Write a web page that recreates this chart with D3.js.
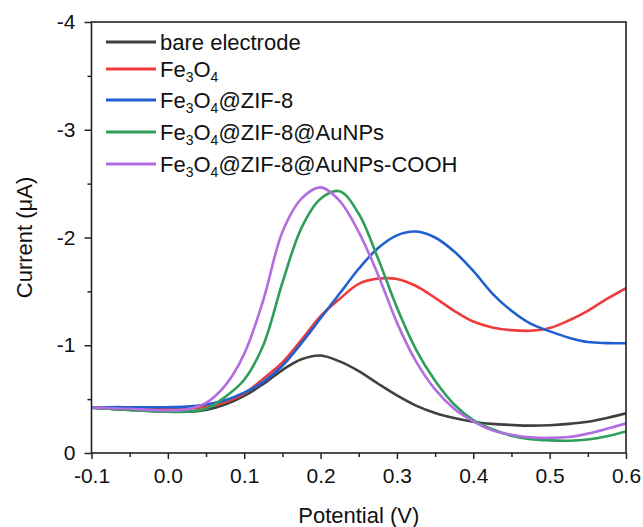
<!DOCTYPE html>
<html><head><meta charset="utf-8">
<script src="https://cdn.jsdelivr.net/npm/d3@7"></script>
<style>body{margin:0;background:#fff}svg{display:block;font-family:"Liberation Sans",Arial,sans-serif}</style>
</head><body><svg id="c" width="643" height="527"></svg>
<script>
const potential = [-0.1,-0.075,-0.05,-0.025,0,0.025,0.05,0.075,0.1,0.125,0.15,0.175,0.2,0.225,0.25,0.275,0.3,0.325,0.35,0.375,0.4,0.425,0.45,0.475,0.5,0.525,0.55,0.575,0.6];
const bare = [-0.42,-0.41,-0.40,-0.39,-0.385,-0.383,-0.40,-0.45,-0.53,-0.64,-0.77,-0.87,-0.905,-0.85,-0.76,-0.645,-0.535,-0.44,-0.372,-0.325,-0.29,-0.27,-0.26,-0.254,-0.258,-0.27,-0.29,-0.325,-0.368];
const fe3o4 = [-0.42,-0.42,-0.415,-0.41,-0.405,-0.41,-0.43,-0.47,-0.55,-0.69,-0.84,-1.05,-1.27,-1.43,-1.57,-1.618,-1.615,-1.55,-1.44,-1.32,-1.22,-1.165,-1.14,-1.135,-1.16,-1.23,-1.32,-1.43,-1.53];
const zif8 = [-0.42,-0.425,-0.425,-0.425,-0.425,-0.43,-0.45,-0.49,-0.56,-0.66,-0.81,-1.02,-1.25,-1.48,-1.71,-1.90,-2.02,-2.055,-2.00,-1.87,-1.69,-1.48,-1.32,-1.20,-1.13,-1.07,-1.03,-1.02,-1.018];
const aunps = [-0.42,-0.41,-0.40,-0.39,-0.383,-0.383,-0.41,-0.52,-0.68,-1.00,-1.58,-2.09,-2.36,-2.43,-2.22,-1.81,-1.35,-0.96,-0.67,-0.45,-0.305,-0.22,-0.16,-0.128,-0.117,-0.114,-0.125,-0.155,-0.20];
const cooh = [-0.42,-0.415,-0.41,-0.40,-0.395,-0.405,-0.465,-0.625,-0.92,-1.42,-2.05,-2.36,-2.465,-2.34,-2.05,-1.66,-1.21,-0.85,-0.59,-0.41,-0.293,-0.21,-0.17,-0.145,-0.14,-0.148,-0.18,-0.225,-0.275];
const seriesNames = ["bare electrode","Fe3O4","Fe3O4@ZIF-8","Fe3O4@ZIF-8@AuNPs","Fe3O4@ZIF-8@AuNPs-COOH"];
const seriesColors = ["#404040","#ee3b3b","#1f5fd1","#2e9e5b","#b06ee0"];
const xTicks = [-0.1,0,0.1,0.2,0.3,0.4,0.5,0.6];
const yTicks = [0,-1,-2,-3,-4];

const svg = d3.select("#c");
const L=91.5, R=626, T=22, B=453;
const x = d3.scaleLinear().domain([-0.1,0.6]).range([L,R]);
const y = d3.scaleLinear().domain([0,-4]).range([B,T]);
const allSeries = [bare,fe3o4,zif8,aunps,cooh];
const fmtX = d => d.toFixed(1);

svg.append("g").attr("transform",`translate(0,${B})`)
  .call(d3.axisBottom(x).tickValues(d3.range(-0.05,0.6,0.1)).tickSize(4).tickFormat(""));
svg.append("g").attr("transform",`translate(0,${B})`)
  .call(d3.axisBottom(x).tickValues(xTicks).tickSize(6).tickPadding(9).tickFormat(fmtX));
svg.append("g").attr("transform",`translate(${L},0)`)
  .call(d3.axisLeft(y).tickValues([-0.5,-1.5,-2.5,-3.5]).tickSize(4).tickFormat(""));
svg.append("g").attr("transform",`translate(${L},0)`)
  .call(d3.axisLeft(y).tickValues(yTicks).tickSize(7).tickPadding(9).tickFormat(d=>d===0?"0":String(d)));
svg.selectAll(".domain").remove();
svg.selectAll(".tick line").attr("stroke","#222").attr("stroke-width",1.5);
svg.selectAll(".tick text").attr("font-size",21).attr("fill","#111").attr("font-family","Liberation Sans, Arial, sans-serif");

const line = d3.line().x((d,i)=>x(potential[i])).y(d=>y(d)).curve(d3.curveCatmullRom.alpha(0.5));
svg.append("clipPath").attr("id","clp").append("rect").attr("x",L).attr("y",T).attr("width",R-L).attr("height",B-T);
svg.append("g").attr("clip-path","url(#clp)").selectAll("path").data(allSeries).join("path")
  .attr("d",line).attr("fill","none").attr("stroke",(d,i)=>seriesColors[i]).attr("stroke-width",2.6);

svg.append("rect").attr("x",L).attr("y",T).attr("width",R-L).attr("height",B-T)
  .attr("fill","none").attr("stroke","#222").attr("stroke-width",1.6);

const legY = [42,69,100,132,164];
const leg = svg.append("g");
seriesNames.forEach((n,i)=>{
  leg.append("line").attr("x1",106).attr("x2",156).attr("y1",legY[i]).attr("y2",legY[i])
    .attr("stroke",seriesColors[i]).attr("stroke-width",3);
  const t = leg.append("text").attr("x",160).attr("y",legY[i]+7.5).attr("font-size",22).attr("fill","#111");
  const parts = n.split(/(?<=Fe)(3)|(?<=O)(4)/).filter(p=>p!==undefined && p!=="");
  let shifted = false;
  parts.forEach(p=>{
    if(p==="3"||p==="4"){
      t.append("tspan").attr("font-size",14).attr("dy",shifted?0:5).text(p);
      shifted = true;
    } else {
      t.append("tspan").attr("dy",shifted?-5:0).text(p);
      shifted = false;
    }
  });
});

svg.append("text").attr("x",(L+R)/2).attr("y",523).attr("text-anchor","middle").attr("font-size",22).attr("fill","#111").text("Potential (V)");
svg.append("text").attr("transform",`translate(32,${(T+B)/2}) rotate(-90)`).attr("text-anchor","middle").attr("font-size",22).attr("fill","#111").text("Current (μA)");
</script></body></html>
